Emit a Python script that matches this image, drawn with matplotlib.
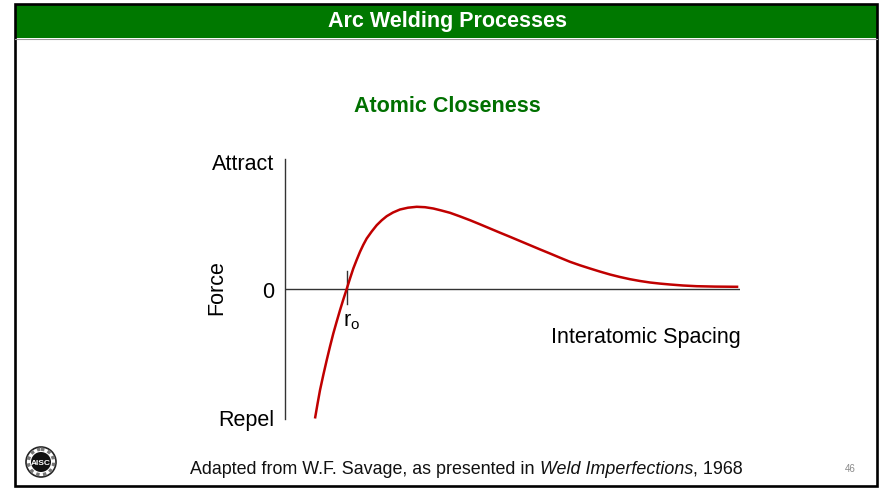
import matplotlib
matplotlib.use("Agg")
import matplotlib.pyplot as plt
from matplotlib.patches import Rectangle, Circle

plt.rcParams['font.family'] = ['Liberation Sans', 'DejaVu Sans']

header = "Arc Welding Processes"
title = "Atomic Closeness"
x_label = "Interatomic Spacing"
y_label = "Force"
y_ticks = [128, 0, -128]
y_tick_labels = ["Attract", "0", "Repel"]
source_plain = "Adapted from W.F. Savage, as presented in "
source_italic = "Weld Imperfections"
source_tail = ", 1968"
page_no = "46"

# interatomic spacing (arbitrary units) vs. force (positive = attraction)
spacing = [30, 32.5, 35, 38.3, 41.7, 45, 48.3, 51.7, 55, 58.3, 61.7, 65,
           68.3, 71.7, 75, 78.3, 81.7, 86.7, 91.7, 96.7, 101.7, 108, 115,
           123, 131.7, 140, 148.3, 156, 165, 175, 185, 195, 205, 215, 225,
           235, 245, 255, 265, 275, 285, 295, 305, 315, 325, 335, 345, 355,
           365, 375, 385, 398, 411.7, 430, 453.3]
force = [-129.5, -115, -101.2, -86, -71.2, -57.5, -44.5, -32.5, -21.2,
         -10.5, 0, 10.5, 20.5, 29.2, 37.2, 44.2, 50.5, 57.5, 63.8, 68.7,
         72.8, 76.5, 79.5, 81.3, 82.2, 81.8, 80.5, 78.6, 76.2, 72.6, 68.8,
         64.7, 60.5, 56.3, 52.2, 48, 43.8, 39.6, 35.5, 31.3, 27.2, 23.7,
         20.5, 17.4, 14.5, 12, 9.8, 8, 6.5, 5.4, 4.5, 3.5, 2.8, 2.4, 2.2]
r0 = 61.7  # equilibrium spacing, where force crosses zero

W, H = 882, 489
fig = plt.figure(figsize=(W / 100, H / 100), dpi=100)

# page layer in pixel coordinates
page = fig.add_axes([0, 0, 1, 1])
page.set_xlim(0, W)
page.set_ylim(H, 0)
page.axis('off')

page.add_patch(Rectangle((15, 5), 862, 34, facecolor='#007800', edgecolor='none'))
page.plot([15, 877], [39.5, 39.5], color='#9a9a9a', lw=0.8)
page.add_patch(Rectangle((15, 5), 862, 482, facecolor='none', edgecolor='black', lw=1.9))
page.text(447, 22, header, color='white', fontsize=15.5, fontweight='bold',
          ha='center', va='center')
page.text(447, 106, title, color='#007000', fontsize=15.5, fontweight='bold',
          ha='center', va='center')

# logo
page.add_patch(Circle((41, 463), 15, facecolor='white', edgecolor='#222222', lw=1.2))
page.add_patch(Circle((41, 463), 12.8, facecolor='none', edgecolor='#777777', lw=2.5, ls=(0, (1, 1))))
page.add_patch(Circle((41, 463), 10, facecolor='#111111', edgecolor='none'))
page.text(41, 463.5, "AISC", color='white', fontsize=6, fontweight='bold',
          ha='center', va='center')

# source line with italic book title
renderer = fig.canvas.get_renderer()
x0 = 190
for txt, style in [(source_plain, 'normal'), (source_italic, 'italic'), (source_tail, 'normal')]:
    t = page.text(x0, 474, txt, fontsize=12.9, style=style, ha='left', va='baseline',
                  color='#111111')
    bb = t.get_window_extent(renderer=renderer)
    x0 += bb.width
page.text(850, 469.5, page_no, fontsize=7, color='#8a8a8a', ha='center', va='center')

# chart
ax = fig.add_axes([285 / W, 1 - 420 / H, 455 / W, 260 / H])
ax.set_facecolor('none')
ax.set_xlim(0, 455)
ax.set_ylim(-130, 130)
for side in ['top', 'right', 'bottom']:
    ax.spines[side].set_visible(False)
ax.spines['left'].set_color('#333333')
ax.spines['left'].set_linewidth(1.0)
ax.axhline(0, color='#333333', lw=1.0)
ax.plot([r0, r0], [18.5, -14.5], color='#333333', lw=1.0)
ax.plot(spacing, force, color='#C00000', lw=1.8, solid_capstyle='butt',
        solid_joinstyle='round')

ax.set_xticks([])
ax.set_yticks(y_ticks)
ax.set_yticklabels(y_tick_labels, fontsize=15.5)
ax.tick_params(axis='y', length=0, pad=8)
ax.text(-0.1495, 0.508, y_label, transform=ax.transAxes, rotation=90,
        fontsize=15.5, ha='center', va='center')
ax.text(r0 - 4, -21, r'r$_\mathregular{o}$', fontsize=15.5, ha='left', va='top')
ax.text(456, -47.5, x_label, fontsize=15.5, ha='right', va='center')

fig.savefig('out.png', dpi=100)
